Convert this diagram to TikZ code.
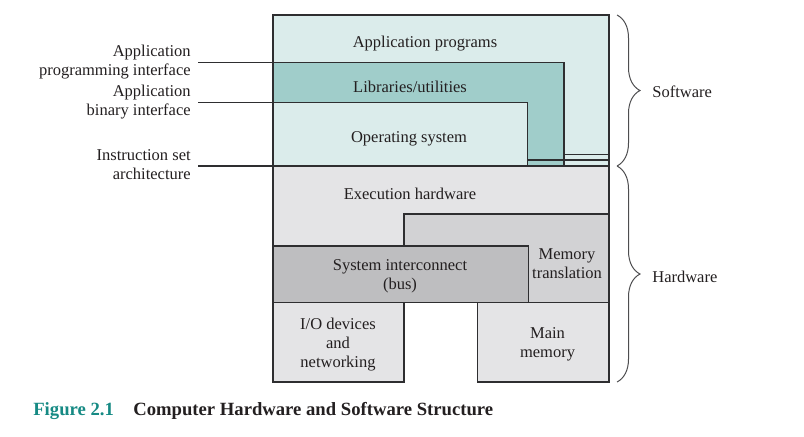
\documentclass[tikz,border=0pt]{standalone}
\usepackage{fontspec}
\setmainfont{Liberation Serif}
\usetikzlibrary{decorations.pathreplacing}
\definecolor{appc}{HTML}{DBECEB}
\definecolor{libc}{HTML}{A0CDCA}
\definecolor{hwc}{HTML}{E4E4E6}
\definecolor{mtc}{HTML}{D2D2D4}
\definecolor{sic}{HTML}{BEBEC0}
\definecolor{edgec}{HTML}{2E2E30}
\definecolor{capc}{HTML}{168A84}
\definecolor{inkc}{HTML}{231F20}
\begin{document}
\begin{tikzpicture}[x=0.6pt,y=-0.6pt,
  blk/.style={draw=edgec,line width=0.8pt},
  txt/.style={font=\fontsize{9.9}{11.4}\selectfont,align=center,inner sep=0pt,text=inkc,yshift=-1pt},
  lbl/.style={font=\fontsize{9.9}{11.4}\selectfont,align=right,inner sep=0pt,anchor=east,text=inkc,yshift=-1.2pt},
  lead/.style={draw=edgec,line width=0.8pt},
  brc/.style={draw=edgec!85,line width=0.6pt,decorate,decoration={brace,amplitude=13.8pt}},
  capt/.style={font=\fontsize{11.2}{13}\selectfont\bfseries,anchor=west,inner sep=0pt,yshift=-1.2pt}]
\useasboundingbox (0,0) rectangle (804,436);

% ---- software layers ----
\fill[appc] (273,15) rectangle (609,166);
\fill[libc] (273,62.3) -- (564,62.3) -- (564,166) -- (527.7,166) -- (527.7,102.7) -- (273,102.7) -- cycle;

% ---- hardware layers ----
\filldraw[blk,fill=hwc] (273,166) rectangle (609,302.7);
\filldraw[blk,fill=mtc] (404,214) rectangle (609,302.7);
\filldraw[blk,fill=sic] (273,246) rectangle (528.3,302.7);
\filldraw[blk,fill=hwc] (273,302.7) rectangle (404,382);
\filldraw[blk,fill=hwc] (477.3,302.7) rectangle (609,382);

% ---- interface labels ----
\node[lbl] (apiL) at (191,60.5) {Application\\programming interface};
\node[lbl] (abiL) at (191,100.5) {Application\\binary interface};
\node[lbl] (isaL) at (191,162.5) {Instruction set\\architecture};

\coordinate (apiS) at (198,62.3);
\coordinate (apiC) at (564,166);
\coordinate (apiB) at (564,154.3);
\coordinate (apiE) at (609,154.3);
\coordinate (abiS) at (198,102.7);
\coordinate (abiC) at (527.7,166);
\coordinate (abiB) at (527.7,160);
\coordinate (abiE) at (609,160);
\coordinate (isaS) at (198,166);
\coordinate (isaE) at (609,166);

\draw[lead] (apiS) -| (apiC);
\draw[lead] (apiB) -- (apiE);
\draw[lead] (abiS) -| (abiC);
\draw[lead] (abiB) -- (abiE);
\draw[lead] (isaS) -- (isaE);
\draw[blk] (273,166) -- (273,15) -- (609,15) -- (609,166);

% ---- block texts ----
\node[txt] (app) at (425,41.7) {Application programs};
\node[txt] (lib) at (410,85) {Libraries/utilities};
\node[txt] (os) at (409,137) {Operating system};
\node[txt] (exec) at (410,192) {Execution hardware};
\node[txt] (sys) at (400,274.5) {System interconnect\\(bus)};
\node[txt] (mt) at (567,261.5) {Memory\\translation};
\node[txt] (io) at (338,343) {I/O devices\\and\\networking};
\node[txt] (mm) at (547.5,342.5) {Main\\memory};

% ---- braces ----
\coordinate (swT) at (617,15);
\coordinate (swB) at (617,166);
\coordinate (hwB) at (617,382);
\draw[brc] (swT) -- (swB);
\draw[brc] (swB) -- (hwB);
\node[txt,anchor=west] (sw) at (652,90.5) {Software};
\node[txt,anchor=west] (hw) at (652,275) {Hardware};

% ---- caption ----
\node[capt,text=capc] (fig) at (33,409) {Figure 2.1};
\node[capt,text=inkc] (cap) at (133,409) {Computer Hardware and Software Structure};
\end{tikzpicture}
\end{document}
